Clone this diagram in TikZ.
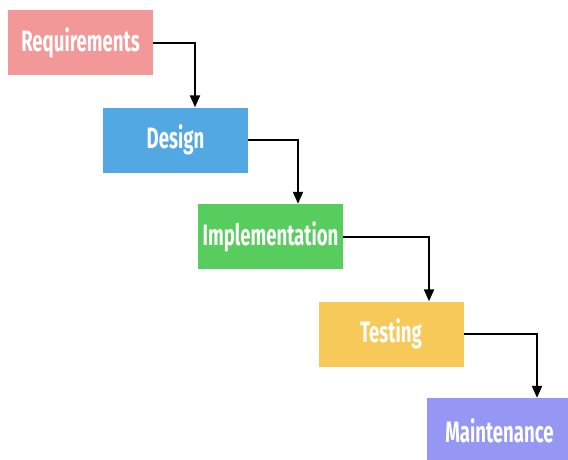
\documentclass[tikz,border=0pt]{standalone}
\usepackage{fontspec}
\setmainfont{Fira Sans}
\usepackage{graphicx}
\usetikzlibrary{arrows.meta}
\definecolor{reqcol}{RGB}{242,152,152}
\definecolor{descol}{RGB}{82,168,227}
\definecolor{impcol}{RGB}{86,205,92}
\definecolor{tescol}{RGB}{247,201,88}
\definecolor{maicol}{RGB}{150,150,244}
\newcommand{\phase}[1]{\scalebox{0.63}[1]{\fontsize{29.5}{31}\selectfont\bfseries #1}}
\begin{document}
\begin{tikzpicture}
                            [x=1pt,y=-1pt,
                            phasebox/.style = {rectangle,
                                        minimum width = 145pt,
                                        minimum height = 65pt,
                                        inner sep = 0pt,
                                        text = white},
                            flow/.style = {line width = 2pt,
                                        -{Triangle[length=12pt,width=10pt]}}]
                            \useasboundingbox (0,0) rectangle (568,459);
                            % Phases
                            \node[phasebox,fill=reqcol] (req) at (80.5,42.5) {\phase{Requirements}};
                            \node[phasebox,fill=descol] (des) at (175.5,140) {\phase{Design}};
                            \node[phasebox,fill=impcol] (imp) at (270.5,236.5) {\phase{Implementation}};
                            \node[phasebox,fill=tescol] (tes) at (391,334) {\phase{Testing}};
                            \node[phasebox,fill=maicol] (mai) at (499.5,430.5) {\phase{Maintenance}};
                            % Connectors
                            \draw[flow] (req.east) -| ([xshift=19.5pt]des.north);
                            \draw[flow] (des.east) -| ([xshift=27.5pt]imp.north);
                            \draw[flow] (imp.east) -| ([xshift=38pt]tes.north);
                            \draw[flow] (tes.east) -| ([xshift=37.5pt]mai.north);
                        \end{tikzpicture}
\end{document}
